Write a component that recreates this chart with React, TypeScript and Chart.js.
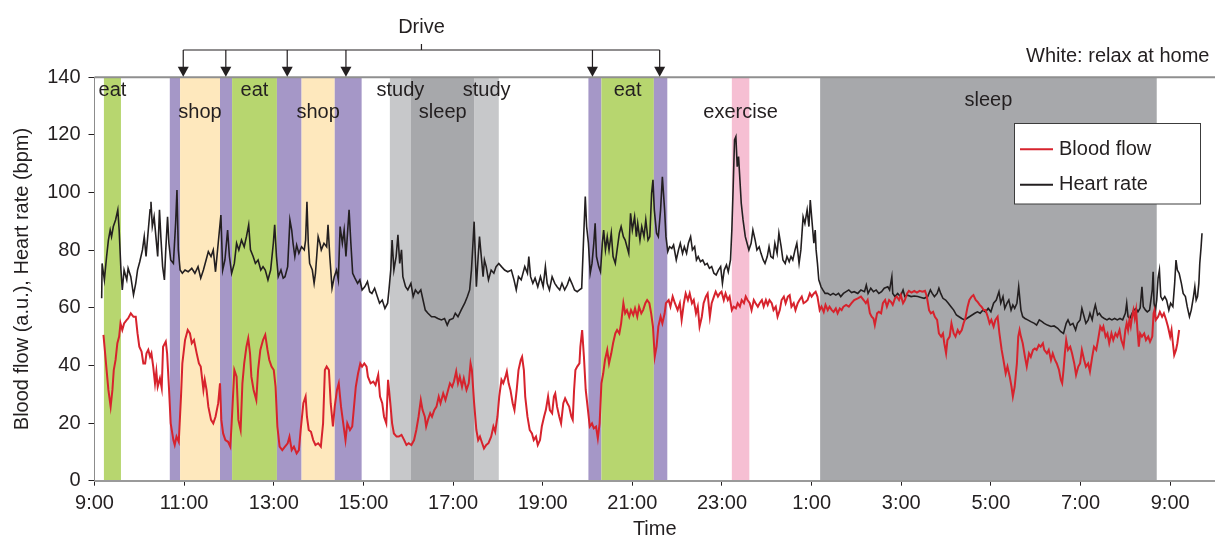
import { useEffect, useRef } from 'react';
import { Chart, registerables } from 'chart.js';

Chart.register(...registerables);

const FONT = '"Liberation Sans", Arial, Helvetica, sans-serif';
const TEXT = '#231f20';

// ---- axis ticks ----
const timeTickHours = [9, 11, 13, 15, 17, 19, 21, 23, 25, 27, 29, 31, 33];
const timeTickLabels = ['9:00', '11:00', '13:00', '15:00', '17:00', '19:00', '21:00', '23:00', '1:00', '3:00', '5:00', '7:00', '9:00'];
const valueTicks = [0, 20, 40, 60, 80, 100, 120, 140];

// ---- activity bands: [start hour, end hour, kind, label, label value] ----
const activityBands: [number, number, string, string, number][] = [
  [9.21, 9.59, 'eat', 'eat', 135.3],
  [10.68, 10.91, 'drive', '', 0],
  [10.91, 11.8, 'shop', 'shop', 127.7],
  [11.8, 12.07, 'drive', '', 0],
  [12.07, 13.07, 'eat', 'eat', 135.3],
  [13.07, 13.62, 'drive', '', 0],
  [13.62, 14.36, 'shop', 'shop', 127.7],
  [14.36, 14.96, 'drive', '', 0],
  [15.59, 16.06, 'study', 'study', 135.3],
  [16.06, 17.48, 'sleep', 'sleep', 127.7],
  [17.48, 18.02, 'study', 'study', 135.3],
  [20.02, 20.31, 'drive', '', 0],
  [20.31, 21.48, 'eat', 'eat', 135.3],
  [21.48, 21.78, 'drive', '', 0],
  [23.22, 23.61, 'exercise', 'exercise', 127.7],
  [25.19, 32.7, 'sleep', 'sleep', 132.1],
];
const bandColors: Record<string, string> = {
  eat: '#b7d66f',
  shop: '#fee8bd',
  drive: '#a597c7',
  study: '#c7c8ca',
  sleep: '#a7a8ab',
  exercise: '#f6bfd3',
};
const driveArrowHours = [10.98, 11.93, 13.3, 14.61, 20.11, 21.61];
const driveLabel = 'Drive';
const whiteNote = 'White: relax at home';

// ---- heart rate (bpm) [hour, value] ----
const hr1 = [[9.16,63.3],[9.17,75.4],[9.22,69.7],[9.27,77.8],[9.31,83.5],[9.35,87],[9.38,84.7],[9.42,88.2],[9.47,90.5],[9.52,94],[9.55,87],[9.59,73.1],[9.62,66.2],[9.66,73.1],[9.72,69.7],[9.75,73.7],[9.81,70.8],[9.87,64.5],[9.92,68.5],[9.96,73.1],[10.01,76],[10.07,80.1],[10.11,84.7],[10.15,77.8],[10.2,87],[10.24,94],[10.26,96.8],[10.29,88.2],[10.33,91.6],[10.37,84.7],[10.41,77.8],[10.45,94],[10.48,84.7],[10.52,74.3],[10.56,69.7],[10.59,80.1],[10.63,91.6],[10.66,82.4],[10.7,76.6],[10.76,75.4],[10.81,89.3],[10.84,100.9],[10.87,80.1],[10.91,73.1],[10.96,72],[11.02,73.1],[11.09,72.5],[11.17,73.7],[11.24,72],[11.31,74.3],[11.37,70.3],[11.43,73.1],[11.49,76.6],[11.54,79.5],[11.6,77.8],[11.65,80.1],[11.7,72.5],[11.76,82.4],[11.82,92.2],[11.86,73.1],[11.91,76.6],[11.97,87],[12.01,77.8],[12.06,72],[12.12,75.4],[12.17,82.4],[12.22,80.1],[12.28,83.5],[12.34,81.2],[12.39,84.7],[12.44,88.8],[12.48,80.1],[12.54,77.8],[12.59,75.4],[12.65,76.6],[12.71,73.1],[12.76,74.3],[12.81,73.1],[12.87,69.7],[12.93,73.1],[12.99,82.4],[13.02,88.8],[13.06,77.8],[13.1,70.8],[13.16,73.1],[13.21,70.3]];
const hr2 = [[13.25,70.8],[13.31,74.3],[13.36,90.5],[13.4,87],[13.43,82.4],[13.47,77.8],[13.51,81.8],[13.56,78.9],[13.62,81.2],[13.68,80.1],[13.71,83.5],[13.74,96.8],[13.77,82.4],[13.8,75.4],[13.86,73.1],[13.9,68.5],[13.93,72],[13.99,84.7],[14.03,82.4],[14.06,80.1],[14.12,82.4],[14.18,81.2],[14.21,88.8],[14.25,77.8],[14.3,66.8],[14.35,70.8],[14.4,73.1],[14.44,69.7],[14.48,88.2],[14.53,82.4],[14.57,87],[14.61,77.8],[14.64,84.7],[14.68,94],[14.72,82.4],[14.76,72],[14.81,70.3],[14.87,68.5],[14.92,69.7],[14.97,66.2],[15.03,67.3],[15.09,69.1],[15.14,65.6],[15.19,65],[15.25,66.8],[15.31,63.9],[15.36,61.6],[15.42,62.7],[15.48,59.8],[15.54,61.6],[15.57,66.2],[15.61,73.1],[15.64,83.5],[15.68,73.1],[15.73,77.8],[15.77,85.3],[15.81,75.4],[15.85,80.1],[15.88,70.8],[15.94,67.3],[15.99,66.2],[16.06,68.5],[16.11,63.9],[16.16,66.2],[16.22,65],[16.28,66.2],[16.33,62.7],[16.38,59.2],[16.44,58.1],[16.52,56.9],[16.59,56.9],[16.66,56.3],[16.74,55.8],[16.81,56.3],[16.87,54],[16.92,55.8],[17,56.3],[17.05,58.1],[17.11,56.9],[17.18,59.2],[17.26,61.6],[17.32,63.9],[17.37,66.2],[17.41,73.1],[17.44,81.2],[17.47,89.9]];
const hr3 = [[17.52,67.3],[17.56,77.8],[17.59,84.7],[17.63,77.8],[17.67,70.8],[17.7,76.6],[17.74,74.3],[17.79,69.7],[17.85,73.1],[17.91,72],[17.96,74.3],[18.02,75.4],[18.08,74.3],[18.15,73.1],[18.22,72.5],[18.3,73.1],[18.36,69.7],[18.41,66.2],[18.46,70.8],[18.52,69.7],[18.6,74.3],[18.66,72],[18.69,77.8],[18.73,70.8],[18.78,68.5],[18.83,70.3],[18.89,67.3],[18.95,70.8],[19.01,67.3],[19.06,74.3],[19.1,68.5],[19.15,66.2],[19.21,70.8],[19.27,68.5],[19.32,67.3],[19.38,66.2],[19.43,68.5],[19.49,66.2],[19.55,68],[19.6,70.3],[19.65,68.5],[19.71,66.2],[19.77,65.6],[19.82,66.2],[19.87,66.8],[19.92,87],[19.95,98.6],[19.98,88.2],[20.02,82.4],[20.06,72],[20.1,75.4],[20.14,82.4],[20.17,89.3],[20.2,77.8],[20.25,74.3],[20.29,72.5],[20.33,82.4],[20.36,87],[20.4,80.1],[20.44,84.7],[20.48,80.1],[20.53,85.9],[20.57,77.8],[20.62,75.4],[20.66,80.1],[20.71,85.9],[20.75,88.2],[20.8,84.7],[20.84,83.5],[20.88,81.2],[20.92,78.9],[20.96,92.8],[21,87],[21.05,91.6],[21.09,84.7],[21.12,89.3],[21.17,83.5],[21.21,88.2],[21.26,84.7],[21.3,90.5],[21.35,83.5],[21.39,84.7],[21.43,99.7],[21.46,104.4],[21.49,94],[21.54,85.9],[21.58,84.7],[21.63,94],[21.67,105.5]];
const hr4 = [[21.72,94],[21.75,84.7],[21.79,79.5],[21.83,81.2],[21.88,80.6],[21.92,81.8],[21.98,76.6],[22.03,80.1],[22.07,82.4],[22.12,78.9],[22.16,81.2],[22.21,78.9],[22.25,82.4],[22.3,84.7],[22.34,80.1],[22.39,81.2],[22.43,76.6],[22.47,77.8],[22.52,76],[22.57,76.6],[22.62,74.9],[22.67,75.4],[22.72,73.7],[22.77,74.3],[22.82,72],[22.87,71.4],[22.92,73.1],[22.97,74.3],[23.01,68.5],[23.05,73.1],[23.1,74.9],[23.14,72.5],[23.19,76.6],[23.22,87],[23.25,102.1],[23.28,118.3],[23.31,119.4],[23.34,109],[23.37,112.5],[23.4,104.4],[23.43,96.3],[23.47,90.5],[23.52,84.7],[23.56,82.4],[23.6,80.1],[23.65,82.4],[23.69,87],[23.74,83.5],[23.78,80.1],[23.83,81.2],[23.87,78.9],[23.92,76.6],[23.96,75.4],[24.01,77.8],[24.05,81.2],[24.09,77.8],[24.14,77.2],[24.18,82.4],[24.23,78.9],[24.27,85.9],[24.32,81.2],[24.36,76.6],[24.41,75.4],[24.45,77.8],[24.5,76],[24.54,77.8],[24.58,76.6],[24.63,80.1],[24.67,82.4],[24.72,75.4],[24.76,80.1],[24.81,91.6],[24.85,89.3],[24.9,94],[24.94,88.2],[24.97,97.4],[25,91.6],[25.05,82.4],[25.08,87],[25.1,80.1],[25.13,75.4],[25.16,69.7],[25.21,67.3],[25.25,66.2],[25.3,65],[25.36,65],[25.42,64.4],[25.48,65],[25.54,64.4],[25.6,65],[25.65,63.9],[25.71,65],[25.77,65.6],[25.83,66.2],[25.89,65.3]];
const hr5 = [[25.95,65.6],[26.03,65],[26.1,66.2],[26.18,65.6],[26.22,67.9],[26.26,65],[26.32,66.8],[26.38,65.6],[26.44,66.2],[26.5,65],[26.56,65.6],[26.62,66.8],[26.7,67.3],[26.74,66.2],[26.79,70.8],[26.81,65],[26.86,63.9],[26.92,65],[26.98,63.9],[27.04,66.2],[27.08,63.9],[27.14,64.4],[27.22,63.9],[27.29,64.1],[27.37,63.9],[27.44,63.6],[27.51,63.3],[27.59,63.9],[27.65,66.2],[27.69,65],[27.74,63.9],[27.8,65],[27.84,66.8],[27.88,65],[27.93,63.3],[27.99,62.7],[28.05,61.6],[28.11,60.4],[28.17,59.2],[28.23,57.5],[28.29,56.9],[28.35,56.3],[28.41,55.8],[28.46,56.3],[28.52,56.9],[28.58,57.5],[28.64,58.1],[28.7,58.6],[28.76,58.1],[28.82,59.2],[28.88,58.6],[28.94,59.8],[29,58.6],[29.06,61.6],[29.12,62.7],[29.18,65.6],[29.22,61.6],[29.27,63.9],[29.31,59.8],[29.36,61.6],[29.4,62.7],[29.45,59.2],[29.49,61],[29.53,59.8],[29.58,61.6],[29.62,67.3],[29.67,59.2],[29.71,56.9],[29.76,56.3],[29.82,55.8],[29.89,55.2],[29.97,54.6],[30.02,54],[30.08,55.8],[30.14,55.2]];
const hr6 = [[30.19,54.6],[30.26,54],[30.34,53.5],[30.41,53.7],[30.49,52.9],[30.56,51.7],[30.62,51.1],[30.68,54.6],[30.72,55.8],[30.77,54],[30.83,54.6],[30.89,52.3],[30.93,54.6],[30.99,55.8],[31.03,59.8],[31.08,56.9],[31.12,54.6],[31.17,55.8],[31.21,58.1],[31.26,55.8],[31.3,59.2],[31.33,61],[31.38,57.5],[31.42,58.1],[31.47,56.9],[31.53,56.3],[31.59,55.8],[31.64,56.3],[31.7,55.8],[31.76,56.3],[31.82,55.8],[31.88,56.3],[31.94,55.8],[32,58.1],[32.03,61.6],[32.06,56.9],[32.1,56.3],[32.15,58.1],[32.19,59.2],[32.24,59.8],[32.28,58.6],[32.33,59.9],[32.37,67.3],[32.4,60.4],[32.45,59.2],[32.49,58.6],[32.54,59.2],[32.57,62.7],[32.6,66.2],[32.62,72.5],[32.64,61.6],[32.67,59.2],[32.7,62.7],[32.73,70.3],[32.76,73.1],[32.79,63.9],[32.83,62.7],[32.88,63.9],[32.92,62.7],[32.97,59.2],[33.01,61.6],[33.06,60.4],[33.1,68.5],[33.13,76.6],[33.16,73.1],[33.2,72],[33.25,68.5],[33.29,65],[33.34,63.9],[33.38,60.4],[33.43,56.9],[33.47,59.2],[33.52,63.9],[33.55,67.3],[33.58,62.7],[33.61,63.9],[33.64,68.5],[33.66,75.4],[33.69,81.2],[33.71,85.9]];

// ---- blood flow (a.u.) [hour, value] ----
const bf1 = [[9.2,50.6],[9.23,45.4],[9.27,38.4],[9.31,31.5],[9.36,25.7],[9.4,31.5],[9.43,38.4],[9.47,41.9],[9.51,47.7],[9.55,50],[9.58,54.6],[9.62,52.3],[9.66,54.6],[9.72,55.8],[9.75,56.3],[9.81,58.1],[9.87,56.9],[9.92,56.9],[9.96,51.1],[10,46.5],[10.05,44.8],[10.09,40.7],[10.13,40.7],[10.16,44.2],[10.2,45.4],[10.24,43],[10.27,44.2],[10.31,39.6],[10.35,33.8],[10.38,37.9],[10.41,32.6],[10.46,35.5],[10.5,32.1],[10.53,46.5],[10.59,48.3],[10.62,44.2],[10.66,32.6],[10.7,19.9],[10.76,14.1],[10.79,12.4],[10.83,15.3],[10.88,13.5],[10.93,29.2],[10.96,40.7],[11.02,48.8],[11.08,52.3],[11.13,51.1],[11.17,47.7],[11.22,48.8],[11.28,44.2],[11.33,40.7],[11.37,39.6],[11.43,31.5],[11.46,35],[11.5,31.5],[11.54,25.7],[11.6,21.1],[11.65,19.9],[11.7,22.2],[11.76,26.9],[11.8,33.8],[11.83,21.1],[11.87,16.4],[11.92,14.1],[11.98,13.5],[12.03,11.8],[12.06,19.9],[12.12,38.4],[12.17,36.1],[12.21,21.1],[12.26,17.6],[12.3,33.8],[12.34,40.7],[12.39,46.5],[12.43,49.4],[12.47,44.2],[12.5,36.1],[12.55,31.5],[12.61,28],[12.65,38.4],[12.7,45.4],[12.76,48.8],[12.81,50.6],[12.86,45.4],[12.9,41.9],[12.95,39.6],[13,38.4],[13.04,32.6],[13.08,18.8],[13.13,11.8],[13.19,10.6]];
const bf2 = [[13.25,11.8],[13.31,13],[13.35,15.3],[13.4,10.6],[13.45,11.8],[13.51,9.5],[13.56,10.6],[13.6,17.6],[13.66,26.9],[13.71,29.2],[13.74,22.2],[13.78,17.6],[13.83,17],[13.88,14.1],[13.93,12.4],[13.99,13],[14.05,11.8],[14.1,19.9],[14.14,38.4],[14.18,39.6],[14.23,38.4],[14.27,26.9],[14.32,18.8],[14.36,25.7],[14.41,31.5],[14.45,33.8],[14.5,25.7],[14.55,19.9],[14.6,14.1],[14.64,19.9],[14.7,17.6],[14.75,18.8],[14.79,25.7],[14.83,32.6],[14.88,37.2],[14.93,40.7],[14.97,39.6],[15.02,40.7],[15.07,39.6],[15.1,36.1],[15.16,33.8],[15.22,34.4],[15.27,33.2],[15.33,36.7],[15.37,29.2],[15.42,26.9],[15.46,22.2],[15.51,19.9],[15.55,35],[15.6,26.9],[15.64,19.9],[15.68,16.4],[15.74,15.3],[15.79,15.3],[15.85,15.9],[15.91,14.1],[15.96,12.4],[16.01,13],[16.07,12.4],[16.13,14.1],[16.18,17.6],[16.23,22.2],[16.28,28],[16.32,24.5],[16.37,22.2],[16.4,18.8],[16.44,21.1],[16.49,23.4],[16.53,22.2],[16.58,24.5],[16.63,25.7],[16.68,29.2],[16.72,26.9],[16.78,30.3],[16.83,28],[16.89,31.5],[16.93,33.8],[16.98,32.6],[17.02,34.4],[17.07,37.9],[17.11,33.8],[17.15,36.1],[17.2,32.6],[17.24,35.5],[17.3,31.5],[17.35,33.8],[17.39,40.7],[17.42,38.4],[17.47,26.9]];
const bf3 = [[17.52,17.6],[17.56,14.1],[17.6,15.3],[17.65,13],[17.69,11.2],[17.74,12.4],[17.79,13],[17.85,15.3],[17.9,18.8],[17.94,17],[17.99,22.2],[18.03,29.2],[18.08,35],[18.12,33.8],[18.17,36.1],[18.2,37.9],[18.24,33.8],[18.28,31.5],[18.33,26.9],[18.37,24.5],[18.42,31.5],[18.46,38.4],[18.51,41.9],[18.54,43],[18.58,38.4],[18.61,29.2],[18.66,22.2],[18.71,17.6],[18.76,16.4],[18.8,14.1],[18.85,15.3],[18.89,12.4],[18.94,14.1],[18.98,18.8],[19.03,22.2],[19.07,24.5],[19.12,29.2],[19.16,24.5],[19.21,23.4],[19.25,29.2],[19.28,30.3],[19.32,25.7],[19.37,22.2],[19.41,19.9],[19.46,26.9],[19.5,28.6],[19.55,26.9],[19.59,25.7],[19.64,22.2],[19.67,21.1],[19.7,31.5],[19.73,38.4],[19.77,39.6],[19.82,40.7],[19.84,46.5],[19.88,52.3],[19.92,43],[19.96,31.5],[20.01,24.5],[20.05,18.8],[20.1,19.9],[20.14,18.2],[20.19,18.8],[20.23,14.7],[20.27,19.9],[20.31,33.8],[20.35,37.2],[20.39,41.9],[20.44,45.4],[20.48,40.7],[20.53,44.2],[20.57,47.7],[20.62,51.1],[20.66,52.3],[20.71,51.1],[20.75,54.6],[20.8,61.6],[20.84,58.1],[20.88,59.2],[20.93,56.9],[20.97,59.2],[21.02,57.5],[21.06,59.8],[21.11,56.9],[21.15,60.4],[21.2,58.1],[21.24,59.2],[21.29,61.6],[21.33,62.7],[21.38,61.6],[21.42,58.1],[21.46,53.5],[21.5,43],[21.54,46.5],[21.58,53.5],[21.63,56.9],[21.67,54.6]];
const bf4 = [[21.72,58],[21.75,61.6],[21.81,62.7],[21.85,60.4],[21.9,63.9],[21.95,61.6],[22.01,59.2],[22.06,61.6],[22.1,55.8],[22.15,61.6],[22.19,65],[22.24,62.7],[22.28,65],[22.33,61.6],[22.37,62.7],[22.42,58.1],[22.46,60.4],[22.5,53.5],[22.55,56.9],[22.59,61.6],[22.64,63.9],[22.68,65],[22.73,56.9],[22.77,61.6],[22.82,63.9],[22.86,65.6],[22.91,63.9],[22.95,65],[22.99,65.6],[23.04,62.7],[23.08,65],[23.13,62.7],[23.17,63.9],[23.22,59.2],[23.26,60.4],[23.31,59.8],[23.35,61.6],[23.4,60.4],[23.44,62.7],[23.49,61.6],[23.53,63.9],[23.57,62.7],[23.62,61.6],[23.66,59.2],[23.71,62.7],[23.75,61.6],[23.8,60.4],[23.84,61.6],[23.89,62.7],[23.93,60.4],[23.98,62.7],[24.02,61],[24.06,62.7],[24.11,61.6],[24.15,59.2],[24.2,60.4],[24.24,56.9],[24.29,59.2],[24.33,62.7],[24.38,63.9],[24.42,61.6],[24.47,63.9],[24.51,64.4],[24.55,60.4],[24.6,61.6],[24.64,59.2],[24.69,61.6],[24.73,62.7],[24.78,63.9],[24.82,61.6],[24.87,62.1],[24.91,62.7],[24.96,65],[25,63.9],[25.05,65],[25.09,65.6],[25.13,63.9],[25.18,59.2],[25.22,60.4],[25.27,58.6],[25.31,61],[25.36,59.2],[25.4,60.4],[25.45,59.2],[25.49,58.6],[25.54,59.8],[25.58,58.1],[25.63,59.8],[25.67,59.2],[25.71,60.4],[25.77,61],[25.83,60.4],[25.89,61.6]];
const bf5 = [[25.95,62.7],[26.03,63.3],[26.1,63.9],[26.16,62.7],[26.21,61.6],[26.25,62.7],[26.3,58.1],[26.34,56.9],[26.38,56.3],[26.41,54],[26.46,58.1],[26.5,58.6],[26.55,58.1],[26.59,61.6],[26.64,62.7],[26.68,60.4],[26.73,62.7],[26.77,62.1],[26.81,61],[26.86,63.3],[26.9,63.9],[26.95,62.7],[26.99,64.4],[27.04,61.6],[27.08,62.7],[27.13,65],[27.17,65.9],[27.23,65.3],[27.29,65.9],[27.35,65.3],[27.41,65.9],[27.47,65.6],[27.53,65.9],[27.57,63.9],[27.62,59.2],[27.66,58.1],[27.71,58.6],[27.75,56.9],[27.8,55.8],[27.84,51.1],[27.89,50],[27.93,51.1],[27.96,47.7],[28,44.2],[28.03,48.8],[28.08,50],[28.12,54.6],[28.17,51.1],[28.21,50],[28.26,52.3],[28.3,51.1],[28.35,52.3],[28.39,54.6],[28.43,56.3],[28.48,60.4],[28.52,62.7],[28.57,63.9],[28.61,64.4],[28.66,62.7],[28.7,62.1],[28.75,61],[28.79,60.4],[28.84,59.2],[28.88,59.2],[28.93,56.9],[28.97,54.6],[29.01,55.8],[29.06,53.5],[29.1,55.8],[29.15,56.9],[29.19,51.1],[29.24,45.4],[29.28,41.9],[29.33,37.2],[29.37,39.6],[29.42,36.1],[29.46,32.6],[29.49,29.2],[29.53,32.6],[29.58,40.7],[29.61,50],[29.64,52.3],[29.67,50],[29.71,47.7],[29.76,43],[29.8,39.6],[29.85,44.2],[29.89,43],[29.94,45.4],[29.98,45.9],[30.02,45.4],[30.07,47.1],[30.11,46.5],[30.16,47.7]];
const bf6 = [[30.19,45.4],[30.25,44.2],[30.29,45.4],[30.34,41.9],[30.38,44.2],[30.43,41.9],[30.47,40.7],[30.52,38.4],[30.56,35],[30.59,33.8],[30.62,38.4],[30.65,44.2],[30.68,48.8],[30.72,45.4],[30.77,46.5],[30.81,44.2],[30.86,40.7],[30.9,36.7],[30.95,39.6],[30.99,40.7],[31.03,45.4],[31.08,41.9],[31.12,39.6],[31.17,40.7],[31.21,37.9],[31.26,43],[31.3,46.5],[31.35,45.4],[31.39,48.8],[31.44,53.5],[31.48,52.3],[31.51,53.5],[31.56,50],[31.6,51.1],[31.64,47.7],[31.69,51.1],[31.73,48.8],[31.78,51.1],[31.82,50],[31.87,52.3],[31.91,48.8],[31.96,46.5],[32,52.3],[32.03,54.6],[32.06,52.3],[32.09,55.8],[32.12,53.5],[32.15,56.9],[32.18,59.2],[32.21,56.3],[32.24,59.2],[32.27,52.3],[32.3,46.5],[32.33,51.1],[32.37,50],[32.42,51.1],[32.46,48.8],[32.51,50],[32.55,48.2],[32.6,50],[32.63,58.1],[32.65,59.2],[32.68,55.8],[32.73,56.9],[32.77,58.6],[32.82,56.9],[32.86,58.1],[32.91,55.8],[32.95,53.5],[33,50],[33.03,52.3],[33.06,47.7],[33.09,43.6],[33.13,45.4],[33.16,47.7],[33.2,52.3]];

const toPoints = (segs: number[][][]) => segs.flat().map(([x, y]) => ({ x, y }));

const annotationPlugin = {
  id: 'activityAnnotations',
  beforeDraw(chart: any) {
    const { ctx, chartArea, scales } = chart;
    const x = scales.x;
    ctx.save();
    for (const [s, e, kind] of activityBands) {
      const x0 = x.getPixelForValue(s);
      const x1 = x.getPixelForValue(e);
      ctx.fillStyle = bandColors[kind];
      ctx.fillRect(x0, chartArea.top, x1 - x0, chartArea.bottom - chartArea.top);
    }
    ctx.restore();
  },
  afterDraw(chart: any) {
    const { ctx, chartArea: ca, scales } = chart;
    const x = scales.x;
    const y = scales.y;
    ctx.save();
    // top frame line
    ctx.strokeStyle = '#8f8f8f';
    ctx.lineWidth = 2;
    ctx.beginPath();
    ctx.moveTo(ca.left, ca.top);
    ctx.lineTo(ca.right, ca.top);
    ctx.stroke();

    // band labels
    ctx.font = `20px ${FONT}`;
    ctx.fillStyle = TEXT;
    ctx.textAlign = 'center';
    ctx.textBaseline = 'middle';
    for (const [s, e, , label, lv] of activityBands) {
      if (label) ctx.fillText(label, x.getPixelForValue((s + e) / 2), y.getPixelForValue(lv));
    }

    // drive bracket with arrows
    const ax = driveArrowHours.map((h) => x.getPixelForValue(h));
    const by = ca.top - 27.3;
    const mid = (ax[0] + ax[ax.length - 1]) / 2;
    ctx.strokeStyle = TEXT;
    ctx.lineWidth = 1.2;
    ctx.beginPath();
    ctx.moveTo(ax[0], by);
    ctx.lineTo(ax[ax.length - 1], by);
    ctx.moveTo(mid, by);
    ctx.lineTo(mid, by - 6);
    for (const px of ax) {
      ctx.moveTo(px, by);
      ctx.lineTo(px, ca.top - 10);
    }
    ctx.stroke();
    for (const px of ax) {
      ctx.beginPath();
      ctx.moveTo(px - 5.5, ca.top - 10.5);
      ctx.lineTo(px + 5.5, ca.top - 10.5);
      ctx.lineTo(px, ca.top - 0.5);
      ctx.closePath();
      ctx.fill();
    }
    ctx.fillText(driveLabel, mid, ca.top - 50.3);

    // note
    ctx.textAlign = 'left';
    ctx.fillText(whiteNote, 1026, ca.top - 20.5);

    // legend
    const lx = 1014.5, ly = 123.5, lw = 186, lh = 80.5;
    ctx.fillStyle = '#ffffff';
    ctx.fillRect(lx, ly, lw, lh);
    ctx.strokeStyle = '#3c3c3c';
    ctx.lineWidth = 1;
    ctx.strokeRect(lx, ly, lw, lh);
    const rows = [149.3, 184.7];
    chart.data.datasets.forEach((ds: any, i: number) => {
      const ry = rows[i];
      ctx.strokeStyle = ds.borderColor;
      ctx.lineWidth = 2;
      ctx.beginPath();
      ctx.moveTo(1020, ry);
      ctx.lineTo(1053, ry);
      ctx.stroke();
      ctx.fillStyle = TEXT;
      ctx.textAlign = 'left';
      ctx.fillText(ds.label, 1059, ry);
    });
    ctx.restore();
  },
};

export default function App() {
  const ref = useRef<HTMLCanvasElement>(null);
  useEffect(() => {
    const chart = new Chart(ref.current as HTMLCanvasElement, {
      type: 'line',
      data: {
        datasets: [
          {
            label: 'Blood flow',
            data: toPoints([bf1, bf2, bf3, bf4, bf5, bf6]),
            borderColor: '#d7232d',
            borderWidth: 2,
            pointRadius: 0,
            tension: 0,
            fill: false,
          },
          {
            label: 'Heart rate',
            data: toPoints([hr1, hr2, hr3, hr4, hr5, hr6]),
            borderColor: '#231f20',
            borderWidth: 1.6,
            pointRadius: 0,
            tension: 0,
            fill: false,
          },
        ],
      },
      options: {
        animation: false,
        responsive: false,
        devicePixelRatio: 1,
        events: [],
        layout: { padding: { left: 0, right: 0, top: 77.3, bottom: 0 } },
        plugins: { legend: { display: false }, tooltip: { enabled: false } },
        scales: {
          x: {
            type: 'linear',
            min: 9,
            max: 34,
            afterFit: (s: any) => { s.height = 57.3; },
            afterBuildTicks: (s: any) => { s.ticks = timeTickHours.map((v) => ({ value: v })); },
            ticks: {
              callback: (_v: any, i: number) => timeTickLabels[i],
              font: { family: FONT, size: 20 },
              color: TEXT,
              padding: 6,
              maxRotation: 0,
              autoSkip: false,
            },
            grid: { drawOnChartArea: false, drawTicks: true, tickLength: 5, tickColor: TEXT, tickWidth: 1 },
            border: { display: true, color: '#9a9a9a', width: 2 },
            title: { display: true, text: 'Time', font: { family: FONT, size: 20 }, color: TEXT, padding: { top: 0, bottom: -3 } },
          },
          y: {
            type: 'linear',
            min: 0,
            max: 140,
            afterFit: (s: any) => { s.width = 94.5; },
            afterBuildTicks: (s: any) => { s.ticks = valueTicks.map((v) => ({ value: v })); },
            ticks: { font: { family: FONT, size: 20 }, color: TEXT, padding: 8 },
            grid: { drawOnChartArea: false, drawTicks: true, tickLength: 6, tickColor: TEXT, tickWidth: 1 },
            border: { display: true, color: '#8c8c8c', width: 1 },
            title: {
              display: true,
              text: 'Blood flow (a.u.), Heart rate (bpm)',
              font: { family: FONT, size: 20 },
              color: TEXT,
              padding: { top: 10, bottom: 0 },
            },
          },
        },
      },
      plugins: [annotationPlugin],
    } as any);
    return () => chart.destroy();
  }, []);
  return (
    <div style={{ position: 'absolute', left: 0, top: 0, width: 1215, height: 538 }}>
      <canvas ref={ref} width={1215} height={538} style={{ display: 'block' }} />
    </div>
  );
}
